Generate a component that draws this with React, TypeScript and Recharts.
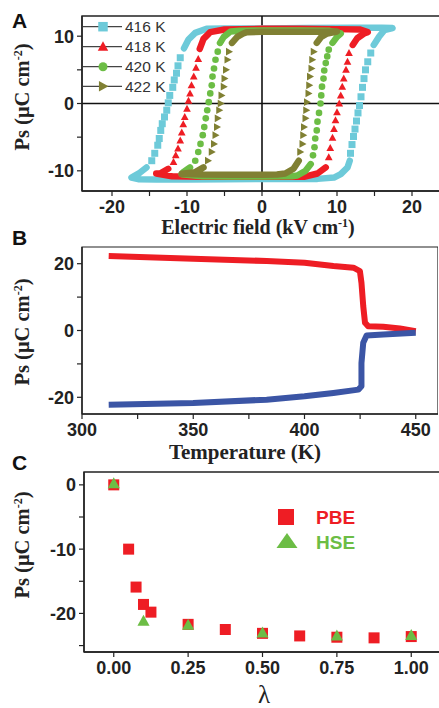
import React from 'react';
import { ScatterChart, Scatter, XAxis, YAxis, ReferenceLine, ReferenceArea } from 'recharts';

type P = [number, number];

// ---------- Panel A: hysteresis loops (E in kV/cm, Ps in uC/cm2) ----------
const loopLabels = ['416 K', '418 K', '420 K', '422 K'];

const top416: P[] = [[14.9, 8.7], [15.6, 9.9], [16.3, 10.9], [17.4, 11.2], [16, 11.25], [12, 11.25], [6, 11.2], [0, 11.15], [-5, 11.15], [-7.4, 11.1], [-8.9, 10.5], [-9.8, 9.5], [-10.4, 8.2]];
const left416: P[] = [[-10.9, 6.8], [-11.2, 5.6], [-11.4, 4.5], [-11.7, 3.5], [-11.9, 2.4], [-12.3, 1.2], [-12.5, 0.1], [-12.7, -1.0], [-13.0, -2.0], [-13.3, -3.0], [-13.5, -4.0], [-13.7, -5.2], [-13.9, -6.2], [-14.3, -7.4], [-14.7, -8.5]];
const bottom416: P[] = [[-15.4, -9.5], [-16.3, -10.3], [-17.4, -11.0], [-16.5, -11.25], [-14, -11.3], [-10, -11.3], [-5, -11.25], [0, -11.2], [5, -11.2], [7.4, -11.2], [9.6, -11.0], [10.5, -10.5], [11.4, -9.5], [11.7, -8.5]];
const right416: P[] = [[11.8, -7.4], [12.0, -6.1], [12.2, -4.9], [12.4, -3.8], [12.6, -2.6], [12.8, -1.4], [13.0, -0.3], [13.2, 1.0], [13.4, 2.4], [13.6, 3.7], [13.8, 5.0], [14.1, 6.2], [14.5, 7.5]];

const top418: P[] = [[12.1, 8.7], [12.7, 9.7], [13.6, 10.4], [14.1, 10.6], [13, 11.0], [10, 11.05], [5, 11.1], [0, 11.1], [-5, 11.0], [-6.9, 10.6], [-7.8, 9.6], [-8.3, 8.1]];
const left418: P[] = [[-8.5, 6.6], [-8.8, 5.3], [-9.1, 4.0], [-9.4, 2.7], [-9.6, 1.5], [-9.8, 0.4], [-10.0, -0.8], [-10.3, -2.0], [-10.5, -3.1], [-10.7, -4.3], [-10.9, -5.5], [-11.2, -6.7], [-11.5, -7.7], [-11.8, -8.7]];
const bottom418: P[] = [[-12.5, -9.7], [-13.6, -10.4], [-14.1, -10.4], [-12, -10.8], [-8, -10.9], [-4, -10.9], [0, -10.9], [4, -10.9], [5.6, -10.9], [7.4, -10.4], [8.5, -9.5]];
const right418: P[] = [[8.9, -8.0], [9.1, -6.6], [9.4, -5.1], [9.6, -3.8], [9.8, -2.5], [10.0, -1.3], [10.3, 0.0], [10.5, 1.2], [10.7, 2.5], [10.9, 3.7], [11.2, 5.0], [11.4, 6.2], [11.6, 7.5]];

const top420: P[] = [[9.4, 9.0], [10.0, 9.9], [10.5, 10.4], [9, 10.8], [5, 10.85], [0, 10.85], [-3, 10.8], [-4.2, 10.7], [-5.1, 9.9], [-5.6, 9.0]];
const left420: P[] = [[-5.9, 7.7], [-6.2, 6.5], [-6.4, 5.2], [-6.6, 4.0], [-6.7, 2.7], [-6.9, 1.5], [-7.1, 0.2], [-7.3, -1.0], [-7.5, -2.2], [-7.7, -3.5], [-7.9, -4.7], [-8.2, -6.0], [-8.5, -7.2], [-8.9, -8.5]];
const bottom420: P[] = [[-9.6, -9.5], [-10.5, -10.2], [-10.7, -10.5], [-8, -10.8], [-4, -10.85], [0, -10.85], [4, -10.8], [4.7, -10.7], [5.8, -10.0], [6.5, -9.0]];
const right420: P[] = [[6.8, -7.7], [7.0, -6.5], [7.1, -5.2], [7.3, -4.0], [7.4, -2.7], [7.6, -1.4], [7.8, 0.0], [7.9, 1.2], [8.0, 2.5], [8.2, 3.7], [8.3, 4.9], [8.5, 6.0], [8.7, 7.0], [8.9, 8.0]];

const top422: P[] = [[7.3, 9.0], [7.9, 9.9], [8.7, 10.4], [10.0, 10.7], [8, 10.65], [4, 10.65], [0, 10.65], [-2, 10.6], [-2.5, 10.4], [-3.3, 9.9], [-4.0, 9.0]];
const left422: P[] = [[-4.4, 7.7], [-4.6, 6.5], [-4.8, 5.0], [-5.0, 3.7], [-5.1, 2.5], [-5.4, 1.2], [-5.5, 0.0], [-5.7, -1.0], [-5.9, -2.2], [-6.0, -3.5], [-6.2, -4.7], [-6.4, -6.0], [-6.7, -7.2], [-7.2, -8.5]];
const bottom422: P[] = [[-7.8, -9.5], [-8.9, -10.2], [-10.7, -10.45], [-8, -10.55], [-4, -10.6], [0, -10.6], [2, -10.55], [3.1, -10.4], [4.2, -9.7], [4.9, -8.5]];
const right422: P[] = [[5.1, -7.2], [5.4, -6.0], [5.5, -4.7], [5.6, -3.5], [5.8, -2.2], [5.9, -1.0], [6.0, 0.2], [6.2, 1.5], [6.3, 2.7], [6.4, 4.0], [6.6, 5.2], [6.7, 6.5], [6.9, 7.7]];

const aXTicks = [-20, -15, -10, -5, 0, 5, 10, 15, 20];
const aXLabeled = [-20, -10, 0, 10, 20];
const aYTicks = [-10, -5, 0, 5, 10];
const aYLabeled = [-10, 0, 10];

// ---------- Panel B: Ps vs temperature ----------
const tempRed = [312, 350, 383, 400, 413, 422, 424.9, 425.6, 426.4, 427.2, 428.6, 435.4, 442.9, 450];
const psRed = [22.3, 21.5, 20.8, 20.3, 19.3, 18.8, 17.8, 14.3, 7.3, 2.3, 1.3, 1.1, 0.6, -0.2];
const tempBlue = [312, 350, 383, 400, 413, 424.2, 425.6, 425.6, 426.4, 427.9, 435.4, 450];
const psBlue = [-22.2, -21.7, -20.7, -19.7, -18.7, -17.7, -16.7, -9.7, -3.7, -1.5, -1.2, -0.7];
const bXTicks = [300, 325, 350, 375, 400, 425, 450];
const bXLabeled = [300, 350, 400, 450];
const bYTicks = [-20, -10, 0, 10, 20];
const bYLabeled = [-20, 0, 20];

// ---------- Panel C: Ps vs lambda ----------
const lambdaPBE = [0, 0.05, 0.075, 0.1, 0.125, 0.25, 0.375, 0.5, 0.625, 0.75, 0.875, 1.0];
const psPBE = [0, -10, -15.9, -18.6, -19.8, -21.7, -22.5, -23.1, -23.5, -23.7, -23.8, -23.6];
const lambdaHSE = [0, 0.1, 0.25, 0.5, 0.75, 1.0];
const psHSE = [0.2, -21.2, -21.8, -23.0, -23.5, -23.4];
const cXTicks = [0, 0.25, 0.5, 0.75, 1.0];
const cYTicks = [-25, -20, -15, -10, -5, 0];
const cYLabeled = [-20, -10, 0];

// ---------- styles ----------
const CYAN = '#6DCAD9';
const RED = '#EE1D24';
const GREEN = '#6CBD45';
const OLIVE = '#808033';
const BLUE = '#3B55A5';
const AXIS = '#222';
const SANS = '"Liberation Sans", Arial, sans-serif';
const SERIF = '"Liberation Serif", "Times New Roman", serif';

const toXY = (a: P[]) => a.map(([x, y]) => ({ x, y }));
const zipXY = (xs: number[], ys: number[]) => xs.map((x, i) => ({ x, y: ys[i] }));

const NoDot = () => <g />;

type Kind = 'square' | 'tri' | 'circle' | 'rtri';
const drawMarker = (kind: Kind, cx: number, cy: number, s: number, color: string) => {
  const h = s / 2;
  if (kind === 'square') return <rect x={cx - h} y={cy - h} width={s} height={s} fill={color} />;
  if (kind === 'circle') return <circle cx={cx} cy={cy} r={h * 0.95} fill={color} />;
  if (kind === 'tri')
    return <polygon points={`${cx},${cy - h * 1.15} ${cx - h * 1.1},${cy + h * 0.85} ${cx + h * 1.1},${cy + h * 0.85}`} fill={color} />;
  return <polygon points={`${cx - h * 0.85},${cy - h * 1.1} ${cx - h * 0.85},${cy + h * 1.1} ${cx + h * 1.15},${cy}`} fill={color} />;
};
const markerShape = (kind: Kind, s: number, color: string) => (props: any) => {
  const { cx, cy } = props;
  if (cx == null || cy == null) return <g />;
  return drawMarker(kind, cx, cy, s, color);
};

const loops = [
  { label: loopLabels[0], color: CYAN, kind: 'square' as Kind, top: top416, bottom: bottom416, left: left416, right: right416 },
  { label: loopLabels[1], color: RED, kind: 'tri' as Kind, top: top418, bottom: bottom418, left: left418, right: right418 },
  { label: loopLabels[2], color: GREEN, kind: 'circle' as Kind, top: top420, bottom: bottom420, left: left420, right: right420 },
  { label: loopLabels[3], color: OLIVE, kind: 'rtri' as Kind, top: top422, bottom: bottom422, left: left422, right: right422 },
];

const tickStyle = { fill: AXIS, fontSize: 18, fontWeight: 'bold' as const, fontFamily: SANS };
const axisLine = { stroke: AXIS, strokeWidth: 1.4 };
const tickLine = { stroke: AXIS, strokeWidth: 1.2 };
const fmt = (labeled: number[], f?: (v: number) => string) => (v: number) =>
  labeled.some((l) => Math.abs(l - v) < 1e-9) ? (f ? f(v) : String(v)) : '';

const PsTitle = ({ cy }: { cy: number }) => (
  <text transform={`translate(28.5,${cy}) rotate(-90)`} textAnchor="middle" fontFamily={SERIF} fontWeight="bold" fontSize={20.5} fill={AXIS}>
    Ps (μC cm<tspan dy={-7} fontSize={12}>-2</tspan><tspan dy={7}>)</tspan>
  </text>
);

export default function App() {
  return (
    <div style={{ position: 'absolute', left: 0, top: 0, width: 439, height: 708, overflow: 'hidden', background: '#fff' }}>
      {/* Panel A */}
      <div style={{ position: 'absolute', left: 0, top: 0 }}>
        <ScatterChart width={442} height={221} margin={{ top: 16, right: 0, bottom: 0, left: 0 }}>
          <XAxis type="number" dataKey="x" domain={[-24, 24]} ticks={aXTicks} interval={0} allowDataOverflow height={30}
            tickSize={5} tickMargin={4} tick={tickStyle} axisLine={axisLine} tickLine={tickLine} tickFormatter={fmt(aXLabeled)} />
          <YAxis type="number" dataKey="y" domain={[-13, 13]} ticks={aYTicks} interval={0} allowDataOverflow width={82}
            tickSize={5} tickMargin={3} tick={tickStyle} axisLine={axisLine} tickLine={tickLine} tickFormatter={fmt(aYLabeled)} />
          <ReferenceArea x1={-24} x2={24} y1={-13} y2={13} fill="none" stroke={AXIS} strokeWidth={1.4} ifOverflow="visible" />
          {loops.map((l) => [
            <Scatter key={l.label + 't'} data={toXY(l.top)} shape={NoDot} isAnimationActive={false}
              line={{ stroke: l.color, strokeWidth: 6.5, strokeLinejoin: 'round', strokeLinecap: 'round' }} />,
            <Scatter key={l.label + 'b'} data={toXY(l.bottom)} shape={NoDot} isAnimationActive={false}
              line={{ stroke: l.color, strokeWidth: 6.5, strokeLinejoin: 'round', strokeLinecap: 'round' }} />,
            <Scatter key={l.label + 'm'} data={toXY([...l.left, ...l.right])} shape={markerShape(l.kind, 7, l.color)} isAnimationActive={false} />,
          ])}
          <ReferenceLine x={0} stroke="#111" strokeWidth={1.6} />
          <ReferenceLine y={0} stroke="#111" strokeWidth={1.6} />
        </ScatterChart>
      </div>

      {/* Panel B */}
      <div style={{ position: 'absolute', left: 0, top: 231 }}>
        <ScatterChart width={438} height={213} margin={{ top: 16, right: 0, bottom: 0, left: 0 }}>
          <XAxis type="number" dataKey="x" domain={[300, 460]} ticks={bXTicks} interval={0} allowDataOverflow height={30}
            tickSize={5} tickMargin={4} tick={tickStyle} axisLine={axisLine} tickLine={tickLine} tickFormatter={fmt(bXLabeled)} />
          <YAxis type="number" dataKey="y" domain={[-25, 25]} ticks={bYTicks} interval={0} allowDataOverflow width={82}
            tickSize={5} tickMargin={3} tick={tickStyle} axisLine={axisLine} tickLine={tickLine} tickFormatter={fmt(bYLabeled)} />
          <ReferenceArea x1={300} x2={460} y1={-25} y2={25} fill="none" stroke={AXIS} strokeWidth={1.2} ifOverflow="visible" />
          <Scatter data={zipXY(tempRed, psRed)} shape={NoDot} isAnimationActive={false}
            line={{ stroke: RED, strokeWidth: 6, strokeLinejoin: 'round', strokeLinecap: 'butt' }} />
          <Scatter data={zipXY(tempBlue, psBlue)} shape={NoDot} isAnimationActive={false}
            line={{ stroke: BLUE, strokeWidth: 6, strokeLinejoin: 'round', strokeLinecap: 'butt' }} />
        </ScatterChart>
      </div>

      {/* Panel C */}
      <div style={{ position: 'absolute', left: 0, top: 456 }}>
        <ScatterChart width={441} height={226} margin={{ top: 16, right: 0, bottom: 0, left: 0 }}>
          <XAxis type="number" dataKey="x" domain={[-0.1, 1.1]} ticks={cXTicks} interval={0} allowDataOverflow height={30}
            tickSize={5} tickMargin={4} tick={tickStyle} axisLine={axisLine} tickLine={tickLine} tickFormatter={(v: number) => v.toFixed(2)} />
          <YAxis type="number" dataKey="y" domain={[-26, 2]} ticks={cYTicks} interval={0} allowDataOverflow width={84}
            tickSize={5} tickMargin={3} tick={tickStyle} axisLine={axisLine} tickLine={tickLine} tickFormatter={fmt(cYLabeled)} />
          <ReferenceArea x1={-0.1} x2={1.1} y1={-26} y2={2} fill="none" stroke={AXIS} strokeWidth={1.4} ifOverflow="visible" />
          <Scatter data={zipXY(lambdaPBE, psPBE)} shape={markerShape('square', 11, RED)} isAnimationActive={false} />
          <Scatter data={zipXY(lambdaHSE, psHSE)} shape={markerShape('tri', 11, GREEN)} isAnimationActive={false} />
        </ScatterChart>
      </div>

      {/* Text overlay */}
      <svg width={439} height={708} style={{ position: 'absolute', left: 0, top: 0, pointerEvents: 'none' }}>
        <text x={12} y={28} fontFamily={SANS} fontWeight="bold" fontSize={21} fill="#111">A</text>
        <text x={12} y={245} fontFamily={SANS} fontWeight="bold" fontSize={21} fill="#111">B</text>
        <text x={12} y={470} fontFamily={SANS} fontWeight="bold" fontSize={21} fill="#111">C</text>

        <PsTitle cy={97} />
        <PsTitle cy={332} />
        <PsTitle cy={545} />

        <text x={258} y={234} textAnchor="middle" fontFamily={SERIF} fontWeight="bold" fontSize={20} fill={AXIS}>
          Electric field (kV cm<tspan dy={-7} fontSize={12}>-1</tspan><tspan dy={7}>)</tspan>
        </text>
        <text x={245} y={459} textAnchor="middle" fontFamily={SERIF} fontWeight="bold" fontSize={21} fill={AXIS}>Temperature (K)</text>
        <text x={264} y={703} textAnchor="middle" fontFamily={SERIF} fontSize={25} fill={AXIS}>λ</text>

        {/* Legend A */}
        {loops.map((l, i) => {
          const cy = [26.7, 46.7, 66.7, 86.3][i];
          return (
            <g key={l.label}>
              <line x1={83} x2={122} y1={cy} y2={cy} stroke="#444" strokeWidth={1.2} />
              {drawMarker(l.kind, 103, cy, 9.5, l.color)}
              <text x={125} y={cy + 5.4} fontFamily={SANS} fontSize={15.5} fill="#333">{l.label}</text>
            </g>
          );
        })}

        {/* Legend C */}
        {drawMarker('square', 286, 517, 16, RED)}
        <text x={316} y={524} fontFamily={SANS} fontWeight="bold" fontSize={19} fill={RED}>PBE</text>
        <polygon points="287,533 276.5,548 297.5,548" fill={GREEN} />
        <text x={316} y={549} fontFamily={SANS} fontWeight="bold" fontSize={19} fill={GREEN}>HSE</text>
      </svg>
    </div>
  );
}
